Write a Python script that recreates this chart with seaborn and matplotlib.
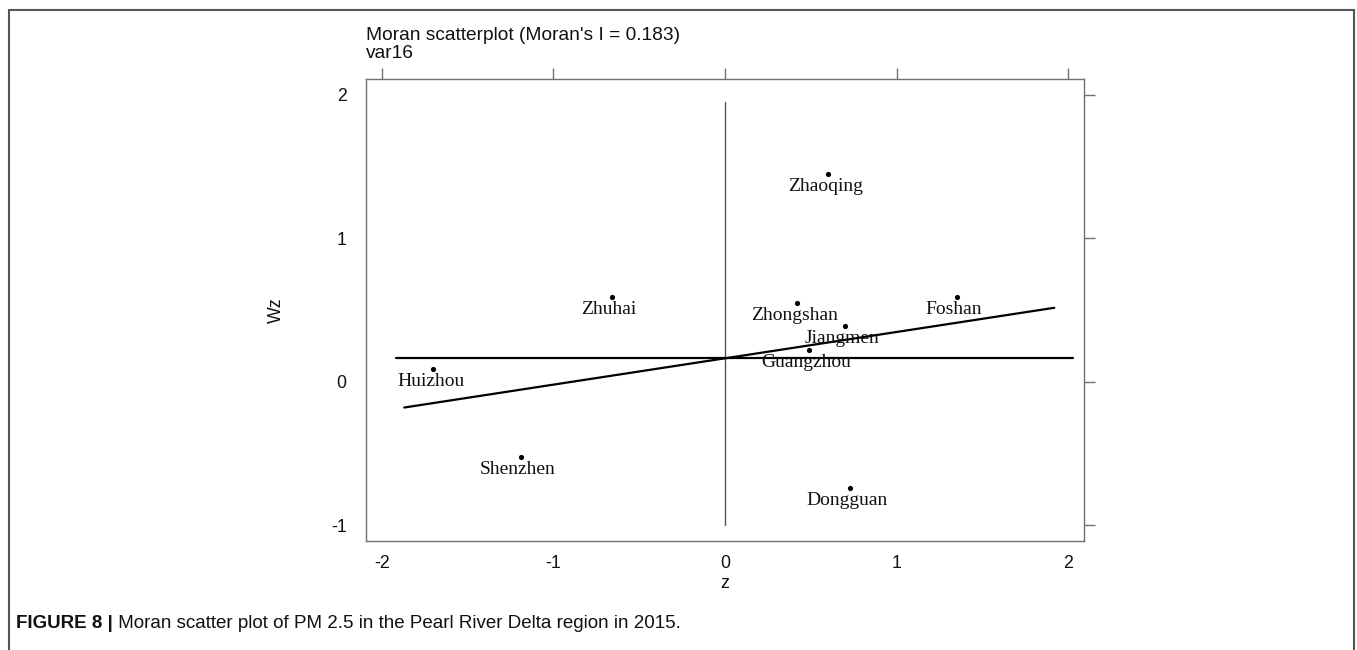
import matplotlib
matplotlib.use("Agg")
import matplotlib.pyplot as plt
from matplotlib.lines import Line2D
import seaborn as sns
import pandas as pd

# values
cities = ["Zhaoqing", "Zhuhai", "Zhongshan", "Jiangmen", "Guangzhou",
          "Foshan", "Dongguan", "Huizhou", "Shenzhen"]
z = [0.60, -0.66, 0.42, 0.70, 0.49, 1.35, 0.73, -1.70, -1.19]
wz = [1.45, 0.59, 0.55, 0.39, 0.22, 0.59, -0.74, 0.09, -0.52]

# fitted line (slope = Moran's I) and reference lines
fit_z = [-1.87, 1.92]
fit_wz = [-0.178, 0.517]
href_z = [-1.92, 2.03]
href_wz = [0.164, 0.164]
vref_z = [0.0, 0.0]
vref_wz = [-1.0, 1.95]

xticks = [-2, -1, 0, 1, 2]
yticks = [-1, 0, 1, 2]

title_lines = ["Moran scatterplot (Moran's I = 0.183)", "var16"]
caption_bold = "FIGURE 8 |"
caption_rest = " Moran scatter plot of PM 2.5 in the Pearl River Delta region in 2015."

sns.set_style("white")
plt.rcParams["font.family"] = ["Liberation Sans", "DejaVu Sans"]

W, H = 1357, 650
fig = plt.figure(figsize=(W / 100, H / 100), dpi=100)
ax = fig.add_axes([366 / W, 1 - 541 / H, (1084 - 366) / W, (541 - 79) / H])

df = pd.DataFrame({"z": z, "wz": wz, "city": cities})
sns.scatterplot(data=df, x="z", y="wz", color="black", s=14, linewidth=0, ax=ax, zorder=4)

sns.lineplot(x=fit_z, y=fit_wz, color="black", lw=1.6, ax=ax, zorder=3)
sns.lineplot(x=href_z, y=href_wz, color="black", lw=1.6, ax=ax, zorder=3)
ax.plot(vref_z, vref_wz, color="#555555", lw=1.0, zorder=2)

# point labels sit just below each dot
for c, xv, yv in zip(cities, z, wz):
    ax.annotate(c, (xv, yv), xytext=(-2, -9), textcoords="offset points",
                ha="center", va="center", fontsize=14, family="Liberation Serif",
                color="#111111", zorder=5)

ax.set_xlim(-2.093, 2.093)
ax.set_ylim(-1.108, 2.111)
ax.set_xticks(xticks)
ax.set_yticks(yticks)
ax.set_xticklabels([str(t) for t in xticks])
ax.set_yticklabels([str(t) for t in yticks])

for s in ax.spines.values():
    s.set_visible(True)
    s.set_color("#707070")
    s.set_linewidth(1.0)

ax.tick_params(axis="both", direction="out", length=8, width=1.0, color="#707070",
               labelsize=12.8, labelcolor="#111111",
               top=True, right=True, labeltop=False, labelright=False)
ax.tick_params(axis="y", pad=6)
ax.tick_params(axis="x", pad=2)

ax.set_xlabel("z", fontsize=12.8, color="#111111", labelpad=2)
ax.set_ylabel("Wz", fontsize=12.8, color="#111111", labelpad=33)

fig.text(366 / W, 1 - 35 / H, title_lines[0], fontsize=13.8, ha="left", va="center", color="#111111")
fig.text(366 / W, 1 - 54 / H, title_lines[1], fontsize=13.8, ha="left", va="center", color="#111111")

# outer frame (left, top, right)
fc = "#555555"
fig.add_artist(Line2D([9 / W, 9 / W], [0, 1 - 10 / H], color=fc, lw=1.5, transform=fig.transFigure))
fig.add_artist(Line2D([9 / W, 1354 / W], [1 - 10 / H, 1 - 10 / H], color=fc, lw=1.5, transform=fig.transFigure))
fig.add_artist(Line2D([1354 / W, 1354 / W], [0, 1 - 10 / H], color=fc, lw=1.5, transform=fig.transFigure))

# caption, bold prefix then regular text
t1 = fig.text(16 / W, 1 - 623 / H, caption_bold, fontsize=13.5, fontweight="bold",
              ha="left", va="center", color="#111111")
fig.canvas.draw()
bb = t1.get_window_extent(renderer=fig.canvas.get_renderer())
fig.text(bb.x1 / W, 1 - 623 / H, caption_rest, fontsize=13.5,
         ha="left", va="center", color="#111111")

fig.savefig("out.png", dpi=100)
